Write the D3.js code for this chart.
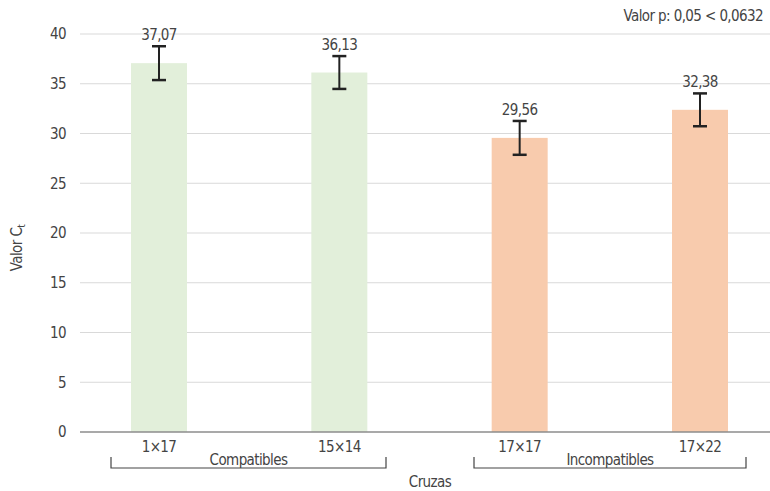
<!DOCTYPE html>
<html>
<head>
<meta charset="utf-8">
<script src="https://cdn.jsdelivr.net/npm/d3@7"></script>
<style>
  body { margin: 0; background: #fff; }
  text { font-family: "DejaVu Sans Condensed", "Liberation Sans Narrow", sans-serif; fill: #444; letter-spacing: -0.6px; }
</style>
</head>
<body>
<script>
// datos
let cruzas = ['1×17', '15×14', '17×17', '17×22']
let valores = [37.07, 36.13, 29.56, 32.38]
let errores = [1.7, 1.65, 1.7, 1.65]
let grupos = ['Compatibles', 'Compatibles', 'Incompatibles', 'Incompatibles']
let nombresGrupo = ['Compatibles', 'Incompatibles']
let ticksY = [0, 5, 10, 15, 20, 25, 30, 35, 40]

let colores = { 'Compatibles': '#e2efda', 'Incompatibles': '#f8cbad' }

let width = 770, height = 491
let mLeft = 80, mRight = 770, mTop = 34, mBottom = 432
let fs = '15px'

let svg = d3.select('body').append('svg')
    .attr('width', width)
    .attr('height', height)

let x = d3.scalePoint()
    .domain(cruzas)
    .range([159, 700])

let y = d3.scaleLinear()
    .domain([0, 40])
    .range([mBottom, mTop])

let barW = 56

// grid
svg.append('g')
    .selectAll('line')
    .data(ticksY.filter(d => d > 0))
    .join('line')
    .attr('x1', mLeft).attr('x2', mRight)
    .attr('y1', d => y(d)).attr('y2', d => y(d))
    .attr('stroke', '#d9d9d9')
    .attr('stroke-width', 1)

// eje Y
let ejeY = svg.append('g')
    .attr('transform', 'translate(' + mLeft + ',0)')
    .call(d3.axisLeft(y).tickValues(ticksY).tickSize(0).tickPadding(14))
ejeY.select('.domain').remove()
ejeY.selectAll('text').style('font-size', fs).attr('fill', '#444')
    .style('font-family', '"DejaVu Sans Condensed", sans-serif')

// barras
svg.append('g')
    .selectAll('rect')
    .data(cruzas)
    .join('rect')
    .attr('x', d => x(d) - barW / 2)
    .attr('width', barW)
    .attr('y', (d, i) => y(valores[i]))
    .attr('height', (d, i) => y(0) - y(valores[i]))
    .attr('fill', (d, i) => colores[grupos[i]])

// eje X
svg.append('line')
    .attr('x1', mLeft).attr('x2', mRight)
    .attr('y1', y(0)).attr('y2', y(0))
    .attr('stroke', '#8c8c8c')
    .attr('stroke-width', 1.5)

// barras de error
let err = svg.append('g').attr('stroke', '#222').attr('stroke-width', 2)
cruzas.forEach((c, i) => {
    let cx = x(c)
    let hi = y(valores[i] + errores[i]), lo = y(valores[i] - errores[i])
    err.append('line').attr('x1', cx).attr('x2', cx).attr('y1', hi).attr('y2', lo)
    err.append('line').attr('x1', cx - 7).attr('x2', cx + 7).attr('y1', hi).attr('y2', hi).attr('stroke-width', 2.5)
    err.append('line').attr('x1', cx - 7).attr('x2', cx + 7).attr('y1', lo).attr('y2', lo).attr('stroke-width', 2.5)
})

// etiquetas de valor
svg.append('g')
    .selectAll('text')
    .data(cruzas)
    .join('text')
    .attr('x', d => x(d))
    .attr('y', (d, i) => y(valores[i] + errores[i]) - 6)
    .attr('text-anchor', 'middle')
    .style('font-size', fs)
    .text((d, i) => d3.format('.2f')(valores[i]).replace('.', ','))

// etiquetas de categoría
svg.append('g')
    .selectAll('text')
    .data(cruzas)
    .join('text')
    .attr('x', d => x(d))
    .attr('y', 452)
    .attr('text-anchor', 'middle')
    .style('font-size', fs)
    .text(d => d)

// corchetes de grupo
let corchetes = [[111, 386], [474, 746]]
nombresGrupo.forEach((g, i) => {
    let [a, b] = corchetes[i]
    svg.append('path')
        .attr('d', 'M' + a + ',457V468H' + b + 'V457')
        .attr('fill', 'none')
        .attr('stroke', '#444')
        .attr('stroke-width', 1.2)
    svg.append('text')
        .attr('x', (a + b) / 2)
        .attr('y', 465)
        .attr('text-anchor', 'middle')
        .style('font-size', fs)
        .text(g)
})

// título eje X
svg.append('text')
    .attr('x', 430)
    .attr('y', 487)
    .attr('text-anchor', 'middle')
    .style('font-size', fs)
    .text('Cruzas')

// título eje Y
let ty = svg.append('text')
    .attr('transform', 'translate(22,248) rotate(-90)')
    .attr('text-anchor', 'middle')
    .style('font-size', fs)
ty.append('tspan').text('Valor C')
ty.append('tspan').attr('dy', 3).style('font-size', '10px').text('t')

// valor p
svg.append('text')
    .attr('x', 763)
    .attr('y', 21)
    .attr('text-anchor', 'end')
    .style('font-size', fs)
    .text('Valor p: 0,05 < 0,0632')
</script>
</body>
</html>
